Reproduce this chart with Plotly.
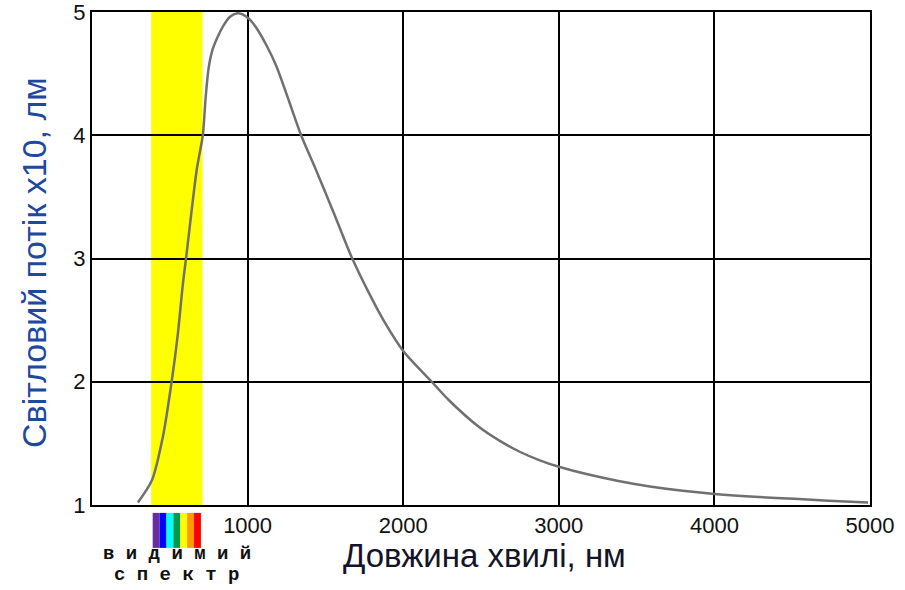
import plotly.graph_objects as go

# Data
wavelength_nm = [295, 385, 455, 513, 551, 583, 609, 673, 712, 730, 750, 776, 808, 840, 885,
                 936, 968, 1013, 1057, 1121, 1185, 1268, 1344, 1439, 1554, 1669, 1796, 1873,
                 2000, 2176, 2294, 2490, 2621, 2752, 2882, 3000, 3198, 3383, 3586, 3796,
                 4000, 4287, 4513, 4733, 4987]
luminous_flux = [1.02, 1.20, 1.55, 2.01, 2.38, 2.78, 3.05, 3.72, 4.00, 4.30, 4.55, 4.70, 4.80,
                 4.88, 4.96, 4.99, 4.98, 4.94, 4.87, 4.73, 4.56, 4.27, 4.00, 3.72, 3.37, 3.01,
                 2.68, 2.50, 2.25, 2.01, 1.85, 1.63, 1.52, 1.43, 1.36, 1.31, 1.245, 1.195, 1.15,
                 1.115, 1.09, 1.065, 1.05, 1.035, 1.02]

visible_range = [380, 710]
spectrum_colors = ["#6a2aa0", "#0000ff", "#00ffff", "#009a4a", "#ffff00", "#ff9a00", "#ff0000"]
spectrum_range = [390, 700]

x_ticks = [1000, 2000, 3000, 4000, 5000]
y_ticks = [1, 2, 3, 4, 5]

x_title = "Довжина хвилі, нм"
y_title = "Світловий потік x10, лм"
spectrum_label = ["в и д и м и й", "с п е к т р"]

fig = go.Figure()
fig.add_trace(go.Scatter(
    x=wavelength_nm, y=luminous_flux, mode="lines",
    line=dict(color="#707070", width=2.5, shape="spline", smoothing=0.8),
    showlegend=False, hoverinfo="x+y",
))

shapes = [dict(type="rect", xref="x", yref="paper", x0=visible_range[0], x1=visible_range[1],
               y0=0, y1=1, fillcolor="#ffff00", line=dict(width=0), layer="below")]
n = len(spectrum_colors)
step = (spectrum_range[1] - spectrum_range[0]) / n
for i, c in enumerate(spectrum_colors):
    shapes.append(dict(type="rect", xref="x", yref="paper",
                       x0=spectrum_range[0] + i * step, x1=spectrum_range[0] + (i + 1) * step,
                       y0=-0.087, y1=-0.016, fillcolor=c, line=dict(width=0), layer="above"))

mono = "Liberation Mono, Courier New, monospace"
sans = "Liberation Sans, Arial, sans-serif"
annotations = [
    dict(text=x_title, xref="paper", yref="paper", x=0.504, y=-0.103, showarrow=False,
         xanchor="center", yanchor="middle",
         font=dict(family=sans, size=33, color="#141428")),
    dict(text=y_title, xref="paper", yref="paper", x=-0.0746, y=0.493, showarrow=False,
         textangle=-90, xanchor="center", yanchor="middle",
         font=dict(family=sans, size=34, color="#1f48a0")),
    dict(text="<b>" + spectrum_label[0] + "</b>", xref="x", yref="paper", x=sum(spectrum_range) / 2,
         y=-0.1, showarrow=False, xanchor="center", yanchor="middle",
         font=dict(family=mono, size=19, color="#111")),
    dict(text="<b>" + spectrum_label[1] + "</b>", xref="x", yref="paper", x=sum(spectrum_range) / 2,
         y=-0.142, showarrow=False, xanchor="center", yanchor="middle",
         font=dict(family=mono, size=19, color="#111")),
]

axis_common = dict(showgrid=True, gridcolor="#000000", gridwidth=2, showline=True,
                   linecolor="#000000", linewidth=2, mirror=True, ticks="", zeroline=False,
                   automargin=False, ticklabeloverflow="allow",
                   tickfont=dict(family=sans, size=22, color="#111"))

fig.update_layout(
    width=905, height=590,
    margin=dict(l=92, r=35, t=12, b=85),
    paper_bgcolor="white", plot_bgcolor="white",
    xaxis=dict(range=[0, 5000], tickvals=x_ticks, ticktext=[str(v) for v in x_ticks], **axis_common),
    yaxis=dict(range=[1, 5], tickvals=y_ticks, ticktext=[str(v) for v in y_ticks], **axis_common),
    shapes=shapes, annotations=annotations,
)

fig.write_html("out.html")
